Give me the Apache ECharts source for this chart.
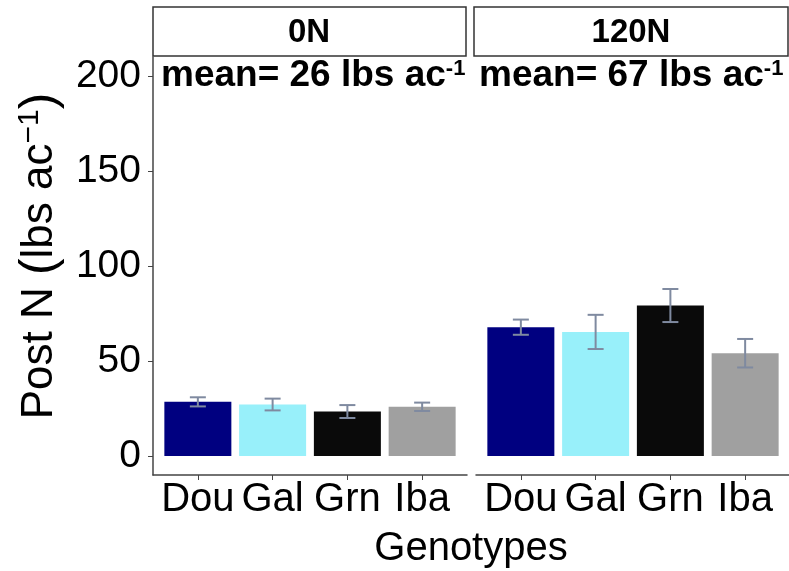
<!DOCTYPE html>
<html lang="en">
  <head>
    <meta charset="UTF-8" />
    <title>Post N by genotype</title>
    <script src="https://cdn.jsdelivr.net/npm/echarts@6/dist/echarts.min.js"></script>
    <style>
      html, body { margin: 0; padding: 0; background: #fff; }
    </style>
  </head>
  <body>
    <div id="main" style="width: 789px; height: 571px;"></div>
    <script type="text/javascript">
      // data
      var genotypes = ["Dou", "Gal", "Grn", "Iba"];
      var panels = ["0N", "120N"];
      var means = [26, 67];
      var post0 = [28.5, 27.1, 23.4, 25.9];
      var se0 = [2.4, 3.1, 3.4, 2.2];
      var post120 = [67.8, 65.3, 79.2, 54.1];
      var se120 = [4.0, 9.0, 8.7, 7.5];
      var yTicks = [0, 50, 100, 150, 200];

      var barColors = ["#000080", "#98F0FA", "#0A0A0A", "#A0A0A0"];
      var font = "Liberation Sans, Arial, sans-serif";
      var axisGray = "#444";

      var myChart = echarts.init(document.getElementById("main"));

      function barData(vals) {
        return vals.map(function (v, i) { return [i + 1, v]; });
      }
      function errData(vals, se) {
        return vals.map(function (v, i) { return [i + 1, v - se[i], v + se[i]]; });
      }

      // error bars: vertical line + two caps
      function renderErr(params, api) {
        var x = api.value(0);
        var lo = api.coord([x, api.value(1)]);
        var hi = api.coord([x, api.value(2)]);
        var half = 8;
        var st = { stroke: "#7f8aa0", lineWidth: 2 };
        return {
          type: "group",
          children: [
            { type: "line", shape: { x1: lo[0], y1: lo[1], x2: hi[0], y2: hi[1] }, style: st },
            { type: "line", shape: { x1: hi[0] - half, y1: hi[1], x2: hi[0] + half, y2: hi[1] }, style: st },
            { type: "line", shape: { x1: lo[0] - half, y1: lo[1], x2: lo[0] + half, y2: lo[1] }, style: st }
          ]
        };
      }

      function xAxisFor(idx) {
        return {
          type: "value",
          gridIndex: idx,
          min: 0.4,
          max: 4.6,
          splitLine: { show: false },
          axisLine: { show: true, onZero: false, lineStyle: { color: axisGray, width: 1.5 } },
          axisTick: { show: true, customValues: [1, 2, 3, 4], length: 5, lineStyle: { color: axisGray } },
          axisLabel: {
            customValues: [1, 2, 3, 4],
            formatter: function (v) { return genotypes[v - 1]; },
            fontSize: 40,
            fontFamily: font,
            color: "#000",
            margin: 5
          }
        };
      }

      function meanText(m) {
        return {
          text: "{b|mean= " + m + " lbs ac}{s|-1}",
          verticalAlign: "middle",
          rich: {
            b: { font: "bold 37px " + font, fill: "#000" },
            s: { font: "bold 22px " + font, fill: "#000", verticalAlign: "top" }
          }
        };
      }

      var option = {
        animation: false,
        backgroundColor: "#fff",
        grid: [
          { left: 153, top: 57, width: 314, height: 418, outerBoundsMode: "none" },
          { left: 476, top: 57, width: 314, height: 418, outerBoundsMode: "none" }
        ],
        xAxis: [xAxisFor(0), xAxisFor(1)],
        yAxis: [
          {
            type: "value",
            gridIndex: 0,
            min: -10,
            max: 210,
            splitLine: { show: false },
            axisLine: { show: true, lineStyle: { color: axisGray, width: 1.5 } },
            axisTick: { show: true, customValues: yTicks, length: 5, lineStyle: { color: axisGray } },
            axisLabel: {
              customValues: yTicks,
              fontSize: 39,
              fontFamily: font,
              color: "#000",
              margin: 12
            },
            name: "Post N {p|(}lbs ac{s|\u22121}{p|)}",
            nameLocation: "middle",
            nameRotate: 90,
            nameGap: 88,
            nameTextStyle: {
              fontSize: 44,
              fontFamily: font,
              color: "#000",
              padding: [0, 0, 0, 20],
              rich: {
                p: { fontSize: 50, fontFamily: font, color: "#000" },
                s: { fontSize: 30, fontFamily: font, color: "#000", verticalAlign: "top" }
              }
            }
          },
          {
            type: "value",
            gridIndex: 1,
            min: -10,
            max: 210,
            show: false
          }
        ],
        series: [
          {
            type: "bar",
            xAxisIndex: 0,
            yAxisIndex: 0,
            barWidth: 67,
            data: barData(post0),
            itemStyle: { color: function (p) { return barColors[p.dataIndex]; } }
          },
          {
            type: "bar",
            xAxisIndex: 1,
            yAxisIndex: 1,
            barWidth: 67,
            data: barData(post120),
            itemStyle: { color: function (p) { return barColors[p.dataIndex]; } }
          },
          {
            type: "custom",
            xAxisIndex: 0,
            yAxisIndex: 0,
            renderItem: renderErr,
            data: errData(post0, se0),
            z: 5
          },
          {
            type: "custom",
            xAxisIndex: 1,
            yAxisIndex: 1,
            renderItem: renderErr,
            data: errData(post120, se120),
            z: 5
          }
        ],
        graphic: [
          // facet strips
          { type: "rect", shape: { x: 153, y: 7, width: 313, height: 49 }, style: { fill: "#fff", stroke: "#333", lineWidth: 1.5 } },
          { type: "rect", shape: { x: 474, y: 7, width: 314, height: 49 }, style: { fill: "#fff", stroke: "#333", lineWidth: 1.5 } },
          { type: "text", x: 309, y: 33, style: { text: panels[0], font: "bold 33px " + font, fill: "#000", align: "center", verticalAlign: "middle" } },
          { type: "text", x: 631, y: 33, style: { text: panels[1], font: "bold 33px " + font, fill: "#000", align: "center", verticalAlign: "middle" } },
          // mean annotations
          { type: "text", x: 161, y: 76, style: meanText(means[0]) },
          { type: "text", x: 479, y: 76, style: meanText(means[1]) },
          // shared x axis title
          { type: "text", x: 471, y: 549, style: { text: "Genotypes", font: "40px " + font, fill: "#000", align: "center", verticalAlign: "middle" } }
        ]
      };

      myChart.setOption(option);
    </script>
  </body>
</html>
